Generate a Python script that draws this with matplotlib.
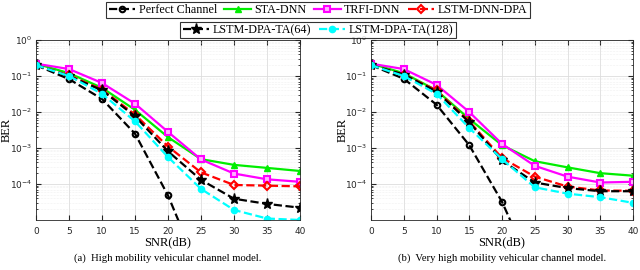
import numpy as np
import matplotlib.pyplot as plt
from matplotlib.lines import Line2D

snr = [0, 5, 10, 15, 20, 25, 30, 35, 40]

# (a) high mobility
perfect_a = [0.20, 0.082, 0.023, 0.0025, 4.8e-5, 3e-7, np.nan, np.nan, np.nan]
sta_a = [0.22, 0.12, 0.047, 0.0115, 0.0020, 4.9e-4, 3.4e-4, 2.8e-4, 2.3e-4]
trfi_a = [0.22, 0.156, 0.064, 0.017, 0.0028, 4.8e-4, 1.95e-4, 1.35e-4, 1.15e-4]
dpa_a = [0.20, 0.105, 0.042, 0.0085, 0.0011, 2.1e-4, 9.4e-5, 9.0e-5, 8.6e-5]
ta64_a = [0.20, 0.10, 0.040, 0.0076, 8.1e-4, 1.3e-4, 3.9e-5, 2.8e-5, 2.2e-5]
ta128_a = [0.20, 0.10, 0.032, 0.0055, 5.6e-4, 7.3e-5, 1.9e-5, 1.1e-5, 1.0e-5]

# (b) very high mobility
perfect_b = [0.20, 0.084, 0.016, 0.0012, 3.2e-5, 3e-7, np.nan, np.nan, np.nan]
sta_b = [0.22, 0.12, 0.040, 0.0064, 0.0012, 4.3e-4, 2.9e-4, 2.0e-4, 1.7e-4]
trfi_b = [0.22, 0.156, 0.057, 0.010, 0.0013, 3.2e-4, 1.6e-4, 1.1e-4, 1.15e-4]
dpa_b = [0.20, 0.11, 0.040, 0.0055, 5.3e-4, 1.6e-4, 8.5e-5, 6.6e-5, 6.5e-5]
ta64_b = [0.20, 0.11, 0.037, 0.0052, 4.5e-4, 1.1e-4, 7.7e-5, 6.3e-5, 6.3e-5]
ta128_b = [0.20, 0.10, 0.032, 0.0036, 4.9e-4, 8.1e-5, 5.4e-5, 4.3e-5, 3.0e-5]

labels = ['Perfect Channel', 'STA-DNN', 'TRFI-DNN', 'LSTM-DNN-DPA',
          'LSTM-DPA-TA(64)', 'LSTM-DPA-TA(128)']
captions = ['(a)  High mobility vehicular channel model.',
            '(b)  Very high mobility vehicular channel model.']

styles = [
    dict(color='k', ls='--', marker='o', mfc='none', ms=4, mew=1.5),
    dict(color='#00ee00', ls='-', marker='^', mfc='#00ee00', ms=5),
    dict(color='#ff00ff', ls='-', marker='s', mfc='#ffb0ff', ms=4.5, mew=1.5),
    dict(color='#ff0000', ls='--', marker='D', mfc='none', ms=4, mew=1.5),
    dict(color='k', ls='--', marker='*', mfc='k', ms=8),
    dict(color='#00ffff', ls='--', marker='o', mfc='#00ffff', ms=4.5),
]

serif = 'Liberation Serif'
fig = plt.figure(figsize=(6.4, 2.7), dpi=100)
ax_a = fig.add_axes([36/640, 50/270, 264/640, 180/270])
ax_b = fig.add_axes([371/640, 50/270, 262/640, 180/270])

data = [[perfect_a, sta_a, trfi_a, dpa_a, ta64_a, ta128_a],
        [perfect_b, sta_b, trfi_b, dpa_b, ta64_b, ta128_b]]

for ax, series, cap in zip([ax_a, ax_b], data, captions):
    for vals, st in zip(series, styles):
        ax.semilogy(snr, vals, lw=1.6, **st)
    ax.set_xlim(0, 40)
    ax.set_ylim(1e-5, 1)
    ax.set_xticks(snr)
    ax.set_yticks([1, 1e-1, 1e-2, 1e-3, 1e-4])
    ax.grid(True, which='major', color='#dddddd', lw=0.6)
    ax.grid(True, which='minor', color='#e4e4e4', lw=0.4, ls=':')
    ax.tick_params(labelsize=6.5, direction='in', which='both', top=True, right=True,
                   colors='#262626', pad=2.5)
    ax.tick_params(axis='x', pad=5)
    ax.tick_params(which='minor', length=1.5)
    ax.set_xlabel('SNR(dB)', family=serif, fontsize=9, labelpad=0.5)
    ax.set_ylabel('BER', family=serif, fontsize=9)
    ax.yaxis.set_label_coords(-23/264, 0.5)
    for s in ax.spines.values():
        s.set_color('#262626')
        s.set_linewidth(0.6)
    ax.text(0.5, -38/180, cap, transform=ax.transAxes, ha='center', va='center',
            family=serif, fontsize=7.7)

handles = [Line2D([], [], lw=1.6, **st) for st in styles]
leg_kw = dict(prop={'family': serif, 'size': 8.7}, frameon=True, fancybox=False,
              edgecolor='k', handlelength=2.2, handletextpad=0.3, columnspacing=0.6,
              borderpad=0.2, borderaxespad=0)
leg1 = fig.legend(handles[:4], labels[:4], ncol=4, loc='center',
                  bbox_to_anchor=(0.497, 1 - 10/270), **leg_kw)
leg2 = fig.legend(handles[4:], labels[4:], ncol=2, loc='center',
                  bbox_to_anchor=(0.497, 1 - 30/270), **leg_kw)
for leg in (leg1, leg2):
    leg.get_frame().set_linewidth(0.8)

fig.savefig('out.png', dpi=100)
